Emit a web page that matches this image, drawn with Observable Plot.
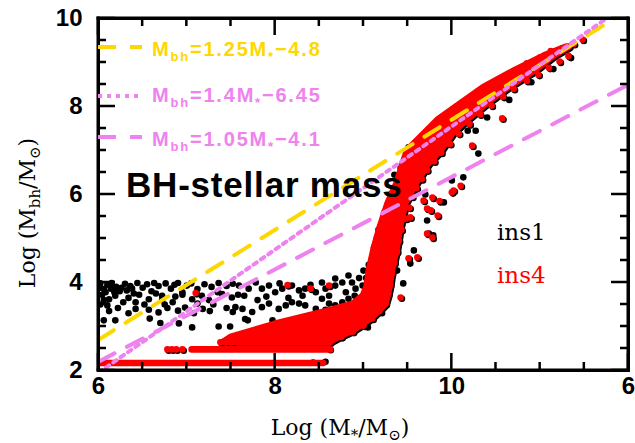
<!DOCTYPE html>
<html><head><meta charset="utf-8">
<script src="https://cdn.jsdelivr.net/npm/d3@7"></script>
<script src="https://cdn.jsdelivr.net/npm/@observablehq/plot@0.6"></script>
<style>body{margin:0;background:#fff}</style>
</head><body><div id="chart"></div>
<script>
// ---------- data ----------
// ins1 (black) scattered points [logM*, logMbh]
const ins1Points = [
 [6.02,3.98],[6.06,3.85],[6.1,3.95],[6.04,3.72],[6.12,3.62],[6.15,3.99],[6.2,3.9],[6.24,3.8],[6.3,3.97],[6.36,3.92],[6.4,3.75],[6.44,3.99],[6.5,3.88],[6.55,3.96],[6.6,3.8],[6.63,3.99],[6.68,3.92],[6.72,3.7],[6.76,3.98],[6.82,3.86],[6.86,3.95],[6.9,3.99],[6.95,3.78],[7.0,3.93],[7.05,3.98],[7.12,3.85],[7.2,3.96],[7.28,3.9],[7.36,3.99],[7.45,3.92],[7.52,3.97],
 [6.02,3.88],[6.08,3.78],[6.14,3.86],[6.18,3.78],[6.26,3.88],[6.32,3.82],[6.38,3.86],
 [6.06,3.6],[6.19,3.7],[6.34,3.65],[6.46,3.72],[6.57,3.62],[6.65,3.75],[6.72,3.6],[6.87,3.68],[6.95,3.72],[7.06,3.62],[7.17,3.7],[7.25,3.6],[7.4,3.74],[7.51,3.66],[7.58,3.72],[7.35,3.78],
 [6.02,3.5],[6.1,3.48],[6.28,3.55],[6.42,3.55],[6.52,3.5],[6.75,3.5],[6.84,3.55],[7.12,3.52],[7.3,3.5],
 [6.12,3.35],[6.22,3.42],[6.34,3.3],[6.42,3.4],[6.57,3.38],[6.68,3.32],[6.78,3.42],[6.9,3.36],[6.98,3.43],[7.08,3.3],[7.18,3.4],[7.26,3.35],[7.45,3.42],[7.52,3.33],
 [6.06,3.14],[6.19,3.14],[6.58,3.18],[6.7,3.08],[6.91,3.07],[7.06,2.98],[7.36,3.0],[7.49,3.0],[7.69,3.14],[7.97,3.14],
 [7.59,3.93],[7.7,3.86],[7.78,4.0],[7.85,3.86],[7.93,3.93],[8.0,3.78],[8.08,3.86],[8.19,3.93],[8.27,3.82],[8.31,3.7],[8.34,3.86],[8.46,3.78],[8.53,4.0],[8.57,3.86],[8.61,3.7],[8.68,3.93],[8.76,4.0],[8.8,3.78],[8.87,4.0],[8.91,3.86],[8.99,3.93],
 [8.53,3.63],[8.61,3.52],[8.68,3.48],[8.76,3.55],[8.83,3.63],[7.55,3.44],[7.63,3.4],[7.66,3.17],[7.74,3.33],[7.85,3.44],[7.93,3.52],[8.04,3.4],[8.12,3.48],[8.19,3.55],[8.27,3.52],[8.34,3.48],[8.46,3.4],[8.57,3.38],[8.68,3.33],[8.83,3.4],[8.91,3.44],
 [7.65,3.7],[7.8,3.6],[7.9,3.68],[8.15,3.65],[8.4,3.95],[8.05,3.98],[8.68,4.09],[8.83,4.16],[9.0,4.27],[8.95,4.1],[8.9,3.7],[8.75,3.25],
 [9.57,4.73],[9.45,3.98],[9.21,3.3],[9.05,2.98],[8.77,2.8],[9.79,5.07],[9.72,5.41],[9.59,6.02],[10.13,6.39],[10.0,6.32],[9.91,5.82],[9.74,5.11],[9.53,4.43],[9.38,4.27],
 [10.18,7.45],[10.3,6.93],[10.27,7.45],[9.7,6.0],[9.42,6.6],[9.35,6.45],[9.3,6.0],[9.24,5.6],[9.17,5.2],[9.12,4.8],[9.06,4.4],[9.03,4.1],[9.51,7.07],
 [8.57,2.2],[8.43,2.18],[8.63,2.46],[10.4,7.75],[10.65,8.15],[10.9,8.55],[11.15,8.85],[11.35,9.1]
];
// ins4 (red) individual points: outliers and the ragged edges of the dense locus
const ins4Points = [
 [7.1,3.76],[8.14,3.94],[8.4,3.86],[8.61,3.93],[9.42,3.66],[9.25,4.8],[9.51,4.55],[9.61,4.57],[9.78,5.02],[9.53,5.48],[9.72,5.11],[10.1,6.2],[10.0,6.05],[9.72,5.68],[9.84,5.52],[9.68,5.86],[10.57,7.73],[10.23,7.11],[9.78,5.93],[9.76,5.64],[10.02,6.09],[9.86,5.85],
 [6.78,2.48],[6.83,2.48],[6.88,2.48],[6.95,2.48],[7.38,2.64],[7.44,2.64],[7.5,2.64],
 [7.42,2.66],[7.55,2.78],[7.7,2.86],[7.85,2.92],[8.0,3.0],[8.15,3.1],[8.3,3.2],[8.45,3.27],[8.6,3.32],[8.75,3.42],[8.88,3.5],[8.97,3.62],[9.02,3.8],[9.05,4.0],[9.06,4.25],[9.09,4.5],[9.12,4.75],[9.15,5.0],[9.2,5.3],[9.24,5.55],[9.28,5.8],[9.33,6.05],[9.38,6.28],[9.42,6.5],[9.45,6.72],[9.5,6.9],[9.57,7.1],[9.65,7.25],[9.75,7.45],[9.85,7.62],[9.96,7.8],[10.06,8.0],[10.18,8.15],[10.3,8.35],[10.42,8.5],[10.55,8.62],[10.7,8.8],[10.85,8.98],[11.0,9.12],[11.12,9.26],[11.25,9.32],[11.38,9.42],[11.48,9.52],
 [8.62,2.64],[8.75,2.76],[8.88,2.88],[9.0,3.02],[9.1,3.18],[9.18,3.35],[9.25,3.52],[9.28,3.75],[9.3,3.95],[9.32,4.2],[9.35,4.45],[9.38,4.7],[9.4,4.95],[9.43,5.2],[9.48,5.45],[9.52,5.7],[9.55,5.95],[9.6,6.15],[9.66,6.35],[9.72,6.55],[9.8,6.75],[9.88,6.95],[9.98,7.15],[10.08,7.38],[10.2,7.6],[10.32,7.82],[10.45,8.02],[10.58,8.22],[10.7,8.4],[10.85,8.58],[10.98,8.72],[11.1,8.88],[11.22,9.02],[11.32,9.15]
];
// ins4 dense locus: at each logMbh, the span of logM* it covers
const ins4LocusY     = [2.64, 2.75, 2.9, 3.05, 3.2, 3.35, 3.5, 3.7, 3.9, 4.3, 4.75, 5.25, 5.8, 6.25, 6.7, 7.0, 7.4, 7.7, 8.0, 8.43, 8.82, 9.15, 9.35];
const ins4LocusLeft  = [7.42, 7.5, 7.75, 8.0, 8.3, 8.6, 8.88, 9.0, 9.04, 9.07, 9.12, 9.19, 9.28, 9.38, 9.45, 9.5, 9.7, 9.85, 10.06, 10.36, 10.72, 11.05, 11.3];
const ins4LocusRight = [8.62, 8.72, 8.88, 9.0, 9.1, 9.18, 9.25, 9.28, 9.3, 9.33, 9.38, 9.42, 9.48, 9.6, 9.74, 9.88, 10.02, 10.18, 10.36, 10.64, 10.95, 11.16, 11.33];
// ins4 horizontal rows at the seed masses
const ins4RowY     = [2.17, 2.48, 2.64];
const ins4RowStart = [6.0, 7.06, 7.58];
const ins4RowEnd   = [8.55, 8.63, 8.62];
// fitted relations  Mbh = a*M* + b
const fitSlopes     = [1.25, 1.4, 1.05];
const fitIntercepts = [-4.8, -6.45, -4.1];
const fitTexts      = ["1.25", "1.4", "1.05"];
const fitOffsets    = ["4.8", "6.45", "4.1"];
// axes
const xDomain = [6, 12], yDomain = [2, 10];
const xLabelVals = [6, 8, 10, 12], xLabelText = ["6", "8", "10", "6"];
const yLabelVals = [2, 4, 6, 8, 10];
const xMajor = [6, 8, 10, 12], yMajor = [2, 4, 6, 8, 10];
const xMinor = [6.5, 7, 7.5, 8.5, 9, 9.5, 10.5, 11, 11.5];
const yMinor = [2.5, 3, 3.5, 4.5, 5, 5.5, 6.5, 7, 7.5, 8.5, 9, 9.5];

// ---------- layout & styles ----------
const W = 635, H = 443, mL = 98, mR = 7, mT = 18, mB = 73;
const fw = W - mL - mR, fh = H - mT - mB;
const GOLD = "#FFD700", VIOLET = "#EE82EE";
const fitStyles = [
  {stroke: GOLD, dash: "18,14"},
  {stroke: VIOLET, dash: "4,5"},
  {stroke: VIOLET, dash: "18,14"}
];
const SANS = "Liberation Sans, Arial, Helvetica, sans-serif";
const SERIF = "DejaVu Serif, Liberation Serif, serif";
const MAJOR = 17, MINOR = 8, TICKW = 2.5, FRAMEW = 3;

const blackPts = ins1Points.map(([x, y]) => ({x, y}));
const redPts = ins4Points.map(([x, y]) => ({x, y}));
const locus = ins4LocusY.map((y, i) => ({y, x1: ins4LocusLeft[i], x2: ins4LocusRight[i]}));
const seedRows = ins4RowY.map((y, i) => ({y, x1: ins4RowStart[i], x2: ins4RowEnd[i]}));
const fitLines = fitSlopes.map((a, i) => xDomain.map(x => ({x, y: a * x + fitIntercepts[i]})));

const R = 3.3;
const plot = Plot.plot({
  width: W, height: H,
  marginLeft: mL, marginRight: mR, marginTop: mT, marginBottom: mB,
  x: {domain: xDomain, axis: null},
  y: {domain: yDomain, axis: null},
  marks: [
    Plot.dot(blackPts, {x: "x", y: "y", r: R, fill: "black", clip: true}),
    Plot.areaX(locus, {y: "y", x1: "x1", x2: "x2", fill: "black", stroke: "black", strokeWidth: 2 * R, strokeLinejoin: "round", dx: 1.5, dy: 1.5, clip: true}),
    Plot.dot(redPts, {x: "x", y: "y", r: R, fill: "black", dx: 1.3, dy: 1.3, clip: true}),
    Plot.ruleY(seedRows, {y: "y", x1: "x1", x2: "x2", stroke: "red", strokeWidth: 2 * R, strokeLinecap: "round", clip: true}),
    Plot.areaX(locus, {y: "y", x1: "x1", x2: "x2", fill: "red", stroke: "red", strokeWidth: 2 * R, strokeLinejoin: "round", clip: true}),
    Plot.dot(redPts, {x: "x", y: "y", r: R, fill: "red", clip: true}),
    ...fitLines.map((pts, i) => Plot.line(pts, {x: "x", y: "y", stroke: fitStyles[i].stroke, strokeWidth: 4, strokeDasharray: fitStyles[i].dash, clip: true})),
    Plot.frame({stroke: "#000", strokeWidth: FRAMEW}),
    Plot.text(xLabelVals, {x: d => d, text: (d, i) => xLabelText[i], frameAnchor: "bottom", dy: 23, fontSize: 24, fontWeight: "bold", fontFamily: SANS, fill: "black"}),
    Plot.text(yLabelVals, {y: d => d, text: d => String(d), frameAnchor: "left", dx: -16, textAnchor: "end", fontSize: 24, fontWeight: "bold", fontFamily: SANS, fill: "black"})
  ]
});
document.getElementById("chart").appendChild(plot);

// ---------- frame & inward ticks as filled shapes, placed with Plot's own scales ----------
const svgSel = d3.select(plot);
const scaleX = plot.scale("x"), scaleY = plot.scale("y");
const px = v => { const p = scaleX.apply(v); return Number.isFinite(p) ? p : mL + (v - xDomain[0]) / (xDomain[1] - xDomain[0]) * fw; };
const py = v => { const p = scaleY.apply(v); return Number.isFinite(p) ? p : mT + (yDomain[1] - v) / (yDomain[1] - yDomain[0]) * fh; };
const axesG = svgSel.append("g").attr("fill", "#000").attr("stroke", "none");
const frameLeft = px(xDomain[0]), frameRight = px(xDomain[1]), frameBottom = py(yDomain[0]), frameTop = py(yDomain[1]);
function box(x, y, w, h) { axesG.append("rect").attr("x", x).attr("y", y).attr("width", w).attr("height", h); }
xMajor.concat(xMinor).forEach(v => {
  const L = xMajor.includes(v) ? MAJOR : MINOR, c = px(v);
  box(c - TICKW / 2, frameBottom - L, TICKW, L);
  box(c - TICKW / 2, frameTop, TICKW, L);
});
yMajor.concat(yMinor).forEach(v => {
  const L = yMajor.includes(v) ? MAJOR : MINOR, c = py(v);
  box(frameLeft, c - TICKW / 2, L, TICKW);
  box(frameRight - L, c - TICKW / 2, L, TICKW);
});
const hf = FRAMEW / 2;
box(frameLeft - hf, frameTop - hf, frameRight - frameLeft + FRAMEW, FRAMEW);
box(frameLeft - hf, frameBottom - hf, frameRight - frameLeft + FRAMEW, FRAMEW);
box(frameLeft - hf, frameTop - hf, FRAMEW, frameBottom - frameTop + FRAMEW);
box(frameRight - hf, frameTop - hf, FRAMEW, frameBottom - frameTop + FRAMEW);

// ---------- annotations (rich text with subscripts) ----------
const ann = svgSel.append("g").attr("text-anchor", "start");
function rich(x, y, parts, o) {
  const t = ann.append("text").attr("x", x).attr("y", y)
    .attr("font-family", o.family).attr("font-size", o.size)
    .attr("font-weight", o.weight || "normal").attr("fill", o.fill)
    .attr("text-anchor", o.anchor || "start");
  if (o.spacing) t.attr("letter-spacing", o.spacing);
  if (o.transform) t.attr("transform", o.transform);
  let shift = 0;
  for (const [s, kind] of parts) {
    const target = kind === "sub" ? o.subShift : 0;
    const ts = t.append("tspan").attr("dy", target - shift).text(s);
    if (kind === "sub") ts.attr("font-size", o.subSize);
    shift = target;
  }
  return t;
}
// legend
const legendRows = [
  {lineY: 47, baseY: 56, color: GOLD, dash: fitStyles[0].dash},
  {lineY: 96, baseY: 102, color: VIOLET, dash: fitStyles[1].dash},
  {lineY: 137, baseY: 146, color: VIOLET, dash: fitStyles[2].dash}
];
legendRows.forEach((r, i) => {
  ann.append("line").attr("x1", mL).attr("x2", mL + 44).attr("y1", r.lineY).attr("y2", r.lineY)
    .attr("stroke", r.color).attr("stroke-width", 4).attr("stroke-dasharray", r.dash);
  rich(152, r.baseY, [["M"], ["bh", "sub"], ["=" + fitTexts[i] + "M"], ["*", "sub"], ["\u2212" + fitOffsets[i]]],
    {family: SANS, size: 20, weight: "bold", fill: r.color, subShift: 5, subSize: 13, spacing: 1.8});
});
// panel title
ann.append("text").attr("x", 126).attr("y", 197).attr("text-anchor", "start").attr("font-family", SANS).attr("font-size", 35)
  .attr("letter-spacing", 0.8).attr("font-weight", "bold").attr("fill", "black").text("BH-stellar mass");
// series labels
ann.append("text").attr("x", 497).attr("y", 240).attr("text-anchor", "start").attr("font-family", SERIF).attr("font-size", 23).attr("fill", "black").text("ins1");
ann.append("text").attr("x", 497).attr("y", 283).attr("text-anchor", "start").attr("font-family", SERIF).attr("font-size", 23).attr("fill", "red").text("ins4");
// axis titles
rich(340, 435, [["Log (M"], ["*", "sub"], ["/M"], ["\u2299", "sub"], [")"]],
  {family: SERIF, size: 22, fill: "black", anchor: "middle", subShift: 5, subSize: 15});
rich(0, 0, [["Log (M"], ["bh", "sub"], ["/M"], ["\u2299", "sub"], [")"]],
  {family: SERIF, size: 22, fill: "black", anchor: "middle", subShift: 5, subSize: 15, transform: "translate(35,213) rotate(-90)"});
</script>
</body></html>
